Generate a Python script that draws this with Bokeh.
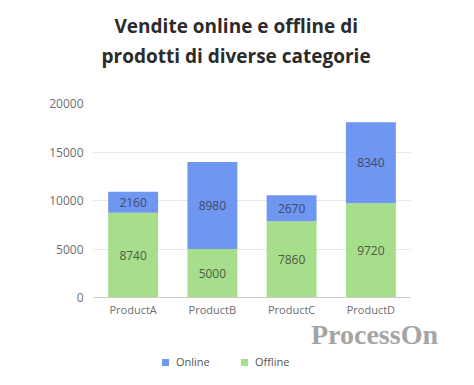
from bokeh.plotting import figure
from bokeh.layouts import column
from bokeh.models import FactorRange, Range1d, ColumnDataSource, LabelSet, Title, Div
from bokeh.embed import file_html
from bokeh.resources import INLINE
from bokeh.core.properties import value

categories = ["ProductA", "ProductB", "ProductC", "ProductD"]
online = [2160, 8980, 2670, 8340]
offline = [8740, 5000, 7860, 9720]
y_ticks = [0, 5000, 10000, 15000, 20000]
series_names = ["Online", "Offline"]

BLUE = "#6f96f0"
GREEN = "#a6de8c"
FONT = "Open Sans"

p = figure(x_range=FactorRange(*categories), y_range=Range1d(0, 20000),
           frame_width=317, frame_height=194, output_backend="svg", toolbar_location=None,
           min_border_left=93, min_border_right=64, min_border_top=103, min_border_bottom=21)
p.title = None

src = ColumnDataSource(dict(
    cat=categories, online=online, offline=offline,
    off_mid=[o / 2 for o in offline],
    on_mid=[o + n / 2 for o, n in zip(offline, online)],
    off_txt=[str(v) for v in offline],
    on_txt=[str(v) for v in online],
))

r = p.vbar_stack(["offline", "online"], x="cat", width=0.63, source=src,
                 color=[GREEN, BLUE], line_color=None)

p.add_layout(LabelSet(x="cat", y="off_mid", text="off_txt", source=src,
                      text_align="center", text_baseline="middle",
                      text_font_size="12px", text_color="#4d5a45", text_font=value(FONT)))
p.add_layout(LabelSet(x="cat", y="on_mid", text="on_txt", source=src,
                      text_align="center", text_baseline="middle",
                      text_font_size="12px", text_color="#3e4a66", text_font=value(FONT)))

p.yaxis.ticker = y_ticks
p.yaxis.axis_line_color = None
p.yaxis.major_tick_line_color = None
p.yaxis.minor_tick_line_color = None
p.yaxis.major_tick_out = 0
p.yaxis.major_label_text_font_size = "12px"
p.yaxis.major_label_text_color = "#6e6e6e"
p.yaxis.major_label_text_font = FONT
p.yaxis.major_label_standoff = 10

p.xaxis.axis_line_color = "#cccccc"
p.xaxis.major_tick_line_color = None
p.xaxis.minor_tick_line_color = None
p.xaxis.major_tick_out = 0
p.xaxis.major_label_text_font_size = "11px"
p.xaxis.major_label_text_color = "#6e6e6e"
p.xaxis.major_label_text_font = FONT
p.xaxis.major_label_standoff = 4

p.xgrid.grid_line_color = None
p.ygrid.grid_line_color = "#e8e8e8"
p.ygrid.ticker = y_ticks
p.outline_line_color = None
p.x_range.range_padding = 0.0
p.x_range.group_padding = 0.0

# title: spacer nearest the frame, then line 2, then line 1
spacer = Title(text=" ", text_font_size="10px", standoff=20)
t_line2 = Title(text="prodotti di diverse categorie", align="left", offset=8, text_font_size="19px",
                text_font=FONT, text_font_style="bold", text_color="#2b2b2b", standoff=4)
t_line1 = Title(text="Vendite online e offline di", align="left", offset=21, text_font_size="19px",
                text_font=FONT, text_font_style="bold", text_color="#2b2b2b", standoff=0)
p.add_layout(spacer, "above")
p.add_layout(t_line2, "above")
p.add_layout(t_line1, "above")

# bottom strip: watermark and legend
item_style = ("position:absolute;top:36px;height:14px;line-height:14px;white-space:nowrap;"
              "font-family:'Open Sans';font-size:11px;color:#555555;")
sq_style = "display:inline-block;width:7px;height:7px;margin-right:7px;vertical-align:middle;position:relative;top:-1px;"
html = (
    '<div style="position:relative;width:474px;height:67px;margin:0;padding:0;">'
    '<div style="position:absolute;right:36px;top:2px;font-family:\'Liberation Serif\';'
    'font-weight:bold;font-size:28px;line-height:28px;color:#a4a4a4;white-space:nowrap;">ProcessOn</div>'
    f'<div style="{item_style}left:162px;"><span style="{sq_style}background:{BLUE};"></span>{series_names[0]}</div>'
    f'<div style="{item_style}left:241px;"><span style="{sq_style}background:{GREEN};"></span>{series_names[1]}</div>'
    '</div>'
)
strip = Div(text=html, width=474, height=67, margin=0)

layout = column(p, strip, spacing=0)
open("out.html", "w").write(file_html(layout, INLINE))
